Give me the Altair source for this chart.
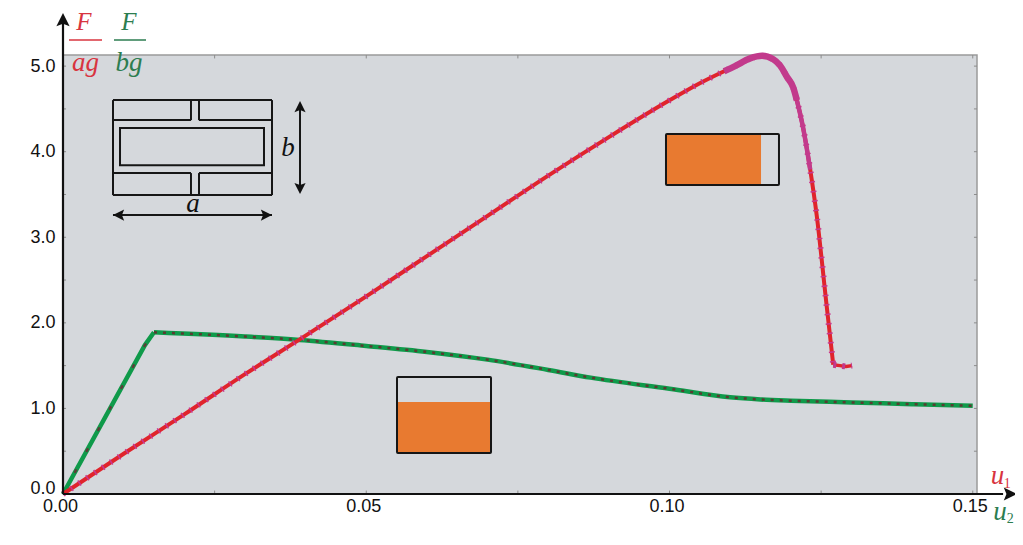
import altair as alt
import pandas as pd

# Main curves
red_u = [0.0, 0.01, 0.02, 0.03, 0.04, 0.05, 0.06, 0.07, 0.08, 0.09, 0.10, 0.105, 0.109, 0.1108, 0.1133, 0.11525,
         0.1171, 0.1182, 0.1194, 0.1204, 0.1210, 0.1220, 0.1232, 0.1243, 0.1258, 0.1270]
red_f = [0.0, 0.47, 0.93, 1.40, 1.85, 2.31, 2.78, 3.25, 3.72, 4.17, 4.60, 4.80, 4.94, 5.00, 5.09, 5.12,
         5.08, 5.01, 4.87, 4.75, 4.60, 4.29, 3.79, 3.24, 2.27, 1.51]
peak_u = [0.109, 0.1108, 0.1133, 0.11525, 0.1171, 0.1182, 0.1194, 0.1204, 0.1210]
peak_f = [4.94, 5.00, 5.09, 5.12, 5.08, 5.01, 4.87, 4.75, 4.60]
taper_u = [0.1210, 0.1220, 0.1232]
taper_f = [4.60, 4.29, 3.79]
end_u = [0.1270, 0.1281, 0.1291, 0.1301]
end_f = [1.51, 1.50, 1.49, 1.50]

green_rise_u = [0.0, 0.0135, 0.0150]
green_rise_f = [0.0, 1.74, 1.89]
green_u = [0.0150, 0.03, 0.039, 0.05, 0.06, 0.07, 0.08, 0.087, 0.10, 0.11, 0.115, 0.12, 0.13, 0.14, 0.15]
green_f = [1.89, 1.84, 1.80, 1.73, 1.66, 1.57, 1.45, 1.36, 1.23, 1.13, 1.105, 1.09, 1.07, 1.05, 1.03]

# Tick values
x_ticks = [0.0, 0.05, 0.10, 0.15]
y_ticks = [0.0, 1.0, 2.0, 3.0, 4.0, 5.0]
x_minor = [0.025, 0.05, 0.075, 0.10, 0.125, 0.15]
y_minor = [0.5, 1.0, 1.5, 2.0, 2.5, 3.0, 3.5, 4.0, 4.5, 5.0]

# Cross-section sketch segments, arrows
seg_x = [0.00824, 0.00824, 0.00824, 0.03446, 0.00824, 0.02242, 0.02110, 0.02242, 0.00824, 0.02242, 0.02110, 0.02242,
         0.03908, 0.00824]
seg_x2 = [0.03446, 0.03446, 0.00824, 0.03446, 0.02110, 0.03446, 0.02110, 0.02242, 0.02110, 0.03446, 0.02110, 0.02242,
          0.03908, 0.03446]
seg_y = [4.603, 3.493, 4.603, 4.603, 4.369, 4.369, 4.603, 4.603, 3.750, 3.750, 3.750, 3.750, 4.50, 3.259]
seg_y2 = [4.603, 3.493, 3.493, 3.493, 4.369, 4.369, 4.369, 4.369, 3.750, 3.750, 3.493, 3.493, 3.60, 3.259]

rect_x = [0.0094]
rect_x2 = [0.03314]
rect_y = [4.276]
rect_y2 = [3.843]

# Inset gauges
frame_x = [0.09942, 0.05507]
frame_x2 = [0.11805, 0.07057]
frame_y = [4.206, 1.367]
frame_y2 = [3.610, 0.479]
fill_x = [0.09942, 0.05507]
fill_x2 = [0.11509, 0.07057]
fill_y = [4.206, 1.075]
fill_y2 = [3.610, 0.479]

# Arrow heads: position, rotation, area
head_u = [0.0, 0.1573, 0.03908, 0.03908, 0.00824, 0.03446]
head_f = [5.62, 0.0, 4.591, 3.505, 3.259, 3.259]
head_a = [0, 90, 0, 180, 270, 90]
head_s = [700, 700, 500, 500, 500, 500]

# Text annotations
txt = ["F", "ag", "F", "bg", "a", "b", "u", "u"]
txt_u = [0.00346, 0.00370, 0.01088, 0.01088, 0.02143, 0.0371, 0.1541, 0.1545]
txt_f = [5.52, 5.035, 5.52, 5.035, 3.388, 4.04, 0.21, -0.21]
txt_c = ["#d8343f", "#d8343f", "#2c7d50", "#2c7d50", "#111111", "#111111", "#d8343f", "#2c7d50"]
txt_s = [25, 27, 25, 27, 27, 27, 27, 27]
sub = ["1", "2"]
sub_u = [0.1557, 0.1562]
sub_f = [0.12, -0.29]
sub_c = ["#d8343f", "#2c7d50"]
frac_u = [0.00099, 0.00841]
frac_u2 = [0.00643, 0.01369]
frac_f = [5.304, 5.304]
frac_c = ["#d8343f", "#2c7d50"]
axis_x = [0.0, 0.0]
axis_x2 = [0.0, 0.155]
axis_y = [0.0, 0.0]
axis_y2 = [5.55, 0.0]

XS = alt.Scale(domain=[0, 0.1507], nice=False, zero=False)
YS = alt.Scale(domain=[0, 5.13], nice=False, zero=False)
X_AXIS = alt.Axis(
    values=x_ticks, format=".2f", ticks=False, grid=False, domain=False, title=None,
    labelFont="Liberation Sans", labelFontSize=18, labelColor="#111111", labelPadding=3,
    labelOverlap=False, labelFlush=False,
    labelOffset={"condition": {"test": "datum.value == 0", "value": -3}, "value": -3})
Y_AXIS = alt.Axis(
    values=y_ticks, format=".1f", ticks=False, grid=False, domain=False, title=None,
    labelFont="Liberation Sans", labelFontSize=18, labelColor="#111111", labelPadding=8,
    labelOverlap=False, labelFlush=False,
    labelOffset={"condition": {"test": "datum.value == 0", "value": -6}, "value": 0})
X = lambda f="u": alt.X(f"{f}:Q", scale=XS, axis=X_AXIS)
Y = lambda f="f": alt.Y(f"{f}:Q", scale=YS, axis=Y_AXIS)


def line(us, fs, color, width, dash=None, interp="monotone"):
    kw = dict(color=color, strokeWidth=width, strokeCap="butt", strokeJoin="round", clip=False, interpolate=interp)
    if dash:
        kw["strokeDash"] = dash
    return alt.Chart(pd.DataFrame({"u": us, "f": fs})).mark_line(**kw).encode(x=X(), y=Y())


def rules(xs, xs2, ys, ys2, color, width, extra=None):
    d = pd.DataFrame({"x": xs, "x2": xs2, "y": ys, "y2": ys2})
    if extra:
        d["c"] = extra
        enc = {"color": alt.Color("c:N", scale=None)}
    else:
        enc = {"color": alt.value(color)}
    return alt.Chart(d).mark_rule(strokeWidth=width, clip=False).encode(
        x=X("x"), x2="x2:Q", y=Y("y"), y2="y2:Q", **enc)


minor_left = rules([0.0] * len(y_minor), [0.0005] * len(y_minor), y_minor, y_minor, "#8c8c8c", 1)
minor_right = rules([0.1507] * len(y_minor), [0.1502] * len(y_minor), y_minor, y_minor, "#8c8c8c", 1)
minor_bottom = rules(x_minor, x_minor, [0.0] * len(x_minor), [0.04] * len(x_minor), "#8c8c8c", 1)
minor_top = rules(x_minor, x_minor, [5.13] * len(x_minor), [5.09] * len(x_minor), "#8c8c8c", 1)

fills = alt.Chart(pd.DataFrame({"x": fill_x, "x2": fill_x2, "y": fill_y, "y2": fill_y2})).mark_rect(
    color="#e87a30").encode(x=X("x"), x2="x2:Q", y=Y("y"), y2="y2:Q")
frames = alt.Chart(pd.DataFrame({"x": frame_x, "x2": frame_x2, "y": frame_y, "y2": frame_y2})).mark_rect(
    fillOpacity=0, stroke="#161616", strokeWidth=2, cornerRadius=1).encode(x=X("x"), x2="x2:Q", y=Y("y"), y2="y2:Q")
inner = alt.Chart(pd.DataFrame({"x": rect_x, "x2": rect_x2, "y": rect_y, "y2": rect_y2})).mark_rect(
    fillOpacity=0, stroke="#161616", strokeWidth=2).encode(x=X("x"), x2="x2:Q", y=Y("y"), y2="y2:Q")
sketch = rules(seg_x, seg_x2, seg_y, seg_y2, "#161616", 2)
axes = rules(axis_x, axis_x2, axis_y, axis_y2, "#111111", 2.2)

heads = alt.Chart(pd.DataFrame({"u": head_u, "f": head_f, "a": head_a, "s": head_s})).mark_point(
    shape="M0,0L0.5,1L0,0.8L-0.5,1Z", filled=True, opacity=1, color="#111111", clip=False
).encode(x=X(), y=Y(), angle=alt.Angle("a:Q", scale=None), size=alt.Size("s:Q", scale=None))

texts = alt.Chart(pd.DataFrame({"u": txt_u, "f": txt_f, "t": txt, "c": txt_c, "s": txt_s})).mark_text(
    font="Liberation Serif", fontStyle="italic", baseline="middle", align="center", clip=False
).encode(x=X(), y=Y(), text="t:N", color=alt.Color("c:N", scale=None), size=alt.Size("s:Q", scale=None))
subs = alt.Chart(pd.DataFrame({"u": sub_u, "f": sub_f, "t": sub, "c": sub_c})).mark_text(
    font="Liberation Serif", fontSize=14, baseline="middle", align="center", clip=False
).encode(x=X(), y=Y(), text="t:N", color=alt.Color("c:N", scale=None))
fracs = rules(frac_u, frac_u2, frac_f, frac_f, None, 1.5, extra=frac_c)

chart = alt.layer(
    minor_left, minor_right, minor_bottom, minor_top,
    fills, frames, inner, sketch,
    line(green_rise_u, green_rise_f, "#0f9a4a", 4.5, interp="linear"),
    line(green_u, green_f, "#0f9a4a", 4.5),
    line(green_rise_u, green_rise_f, "#5a4038", 2.5, dash=[4, 20], interp="linear"),
    line(green_u, green_f, "#5a3b32", 2.5, dash=[3, 6]),
    line(red_u, red_f, "#e0242c", 4),
    line(red_u, red_f, "#c8388f", 6, dash=[1.5, 8]),
    line(peak_u, peak_f, "#c23a8c", 6.5),
    line(taper_u, taper_f, "#c23a8c", 4.5),
    line(end_u, end_f, "#e0242c", 3.5, interp="linear"),
    line(end_u, end_f, "#c23a8c", 6, dash=[3, 6], interp="linear"),
    axes, heads, texts, subs, fracs,
).properties(
    width=914, height=439, background="white",
    padding={"left": 55, "top": 47, "right": 38, "bottom": 43},
    autosize=alt.AutoSizeParams(type="none"),
).configure_view(fill="#d5d8dc", stroke="#9a9a9a", strokeWidth=1.5)

chart.save("out.html", embed_options={"renderer": "svg", "actions": False})
